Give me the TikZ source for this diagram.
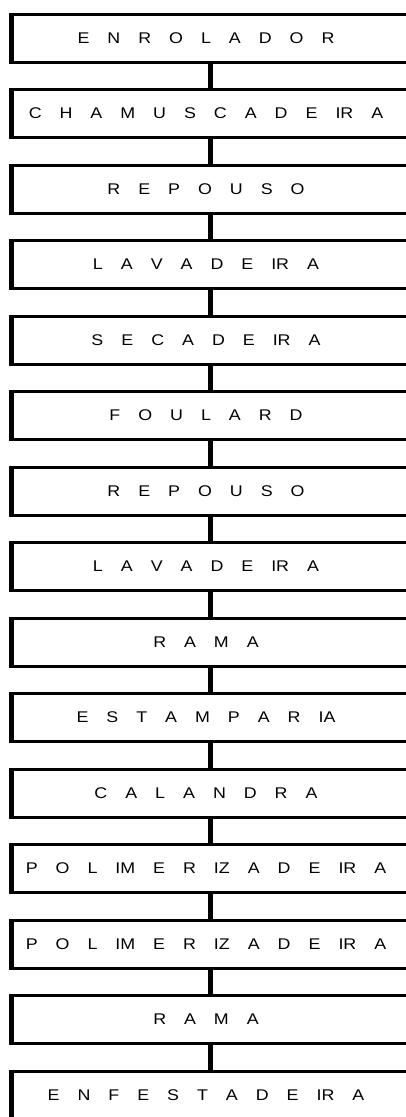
\documentclass[tikz,border=0pt]{standalone}
\usepackage{fontspec}
\setmainfont{Liberation Sans}
\newfontfamily\stepfont[FakeStretch=1.15]{Liberation Sans}
\usepackage{tikz}
\usetikzlibrary{positioning}

\newcommand{\labelfont}{\stepfont\fontsize{15.5}{18}\selectfont\spaceskip=18pt\relax}

\begin{document}
\begin{tikzpicture}[
			node distance=27.5pt,
			box/.style={draw, line width=3pt, outer sep=0pt, inner sep=0pt, minimum width=398pt, minimum height=48pt, font=\labelfont,
				execute at end node={\hspace*{9pt}},
				append after command={(\tikzlastnode.north west) edge[line width=5pt, shorten <=-1.5pt, shorten >=-1.5pt] (\tikzlastnode.south west)}},
			link/.style={line width=5pt}
		]
		\path[fill=white, use as bounding box] (0,0) rectangle (406pt,-1117pt);

		% Process steps
		\node[box] (enrolador) at (210.5pt,-38pt) {E N R O L A D O R};
		\node[box, below=of enrolador] (chamusc) {C H A M U S C A D E IR A};
		\node[box, below=of chamusc] (repouso1) {R E P O U S O};
		\node[box, below=of repouso1] (lavad1) {L A V A D E IR A};
		\node[box, below=of lavad1] (secad) {S E C A D E IR A};
		\node[box, below=of secad] (foulard) {F O U L A R D};
		\node[box, below=of foulard] (repouso2) {R E P O U S O};
		\node[box, below=of repouso2] (lavad2) {L A V A D E IR A};
		\node[box, below=of lavad2] (rama1) {R A M A};
		\node[box, below=of rama1] (estamp) {E S T A M P A R IA};
		\node[box, below=of estamp] (calandra) {C A L A N D R A};
		\node[box, below=of calandra] (polim1) {P O L IM E R IZ A D E IR A};
		\node[box, below=of polim1] (polim2) {P O L IM E R IZ A D E IR A};
		\node[box, below=of polim2] (rama2) {R A M A};
		\node[box, below=of rama2] (enfest) {E N F E S T A D E IR A};

		% Links
		\draw[link] (enrolador) -- (chamusc);
		\draw[link] (chamusc) -- (repouso1);
		\draw[link] (repouso1) -- (lavad1);
		\draw[link] (lavad1) -- (secad);
		\draw[link] (secad) -- (foulard);
		\draw[link] (foulard) -- (repouso2);
		\draw[link] (repouso2) -- (lavad2);
		\draw[link] (lavad2) -- (rama1);
		\draw[link] (rama1) -- (estamp);
		\draw[link] (estamp) -- (calandra);
		\draw[link] (calandra) -- (polim1);
		\draw[link] (polim1) -- (polim2);
		\draw[link] (polim2) -- (rama2);
		\draw[link] (rama2) -- (enfest);

		\end{tikzpicture}
\end{document}
